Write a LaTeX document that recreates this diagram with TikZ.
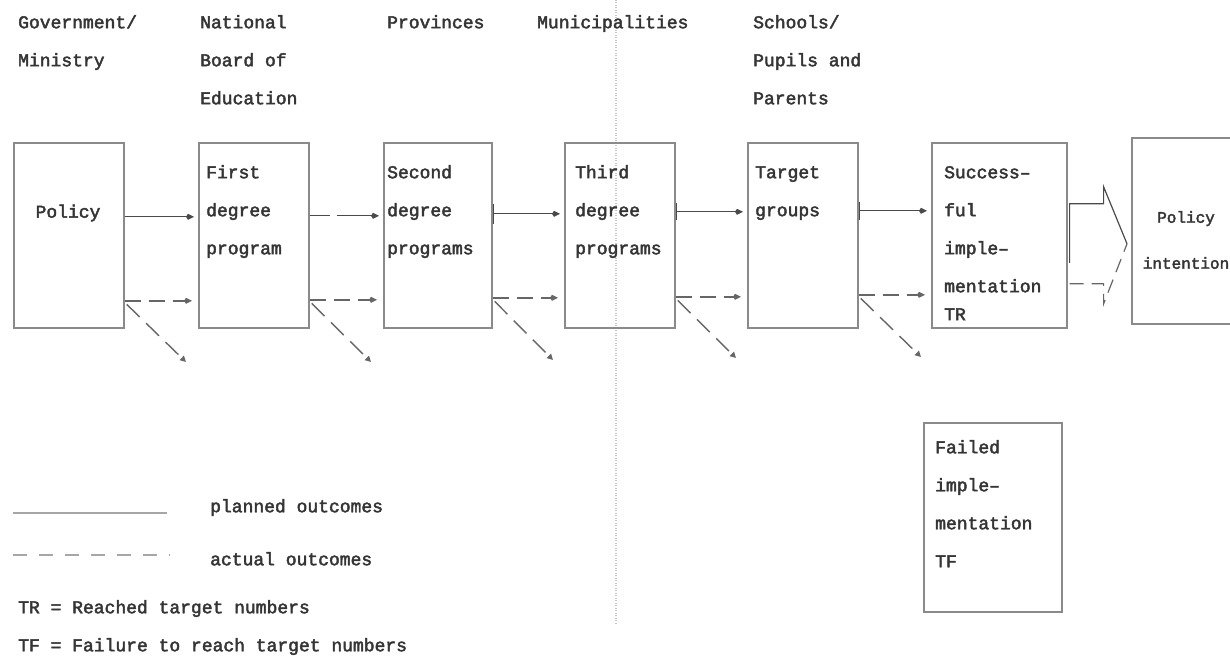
\documentclass[tikz,border=0pt]{standalone}
\usepackage{fontspec}
\setmainfont{Liberation Mono}[FakeBold=2.5]
\usepackage{tikz}
\usetikzlibrary{arrows.meta}

\definecolor{txtgray}{HTML}{353535}
\definecolor{boxgray}{HTML}{8A8A8A}
\definecolor{linegray}{HTML}{4A4A4A}
\definecolor{dashgray}{HTML}{666666}

\tikzset{
  stage/.style={draw=boxgray, line width=1.6pt, minimum width=110pt,
    minimum height=185pt, anchor=north west, inner sep=0pt},
  lbl/.style={anchor=north west, align=left, inner sep=0pt, text=txtgray,
    font=\fontsize{18}{38}\selectfont},
  planned/.style={draw=linegray, line width=1.2pt,
    -{Kite[length=8pt,width=6pt]}, shorten >=4pt},
  tickstart/.style={{Bar[width=#1]}-{Kite[length=8pt,width=6pt]}},
  actual/.style={draw=dashgray, line width=1.4pt, dash pattern=on 16pt off 8pt,
    -{Kite[length=8pt,width=6pt]}, shorten >=6pt},
  miss/.style={draw=dashgray, line width=1.4pt, dash pattern=on 18pt off 9pt,
    -{Triangle[length=6pt,width=6pt]}, shorten <=3pt},
}

\begin{document}
\begin{tikzpicture}[x=1pt,y=-1pt]
  \useasboundingbox (0,0) rectangle (1230,661);

  % dotted divider
  \draw[gray!45, line width=1.5pt, dash pattern=on 1pt off 1.5pt] (616,0) -- (616,625);

  % column heads
  \node[lbl] (h-gov) at (18,15) {Government/\\Ministry};
  \node[lbl] (h-board) at (200,15) {National\\Board of\\Education};
  \node[lbl] (h-prov) at (387,15) {Provinces};
  \node[lbl] (h-mun) at (537,15) {Municipalities};
  \node[lbl] (h-school) at (753,15) {Schools/\\Pupils and\\Parents};

  % stages
  \node[stage] (pol) at (13,142) {};
  \node[stage] (first) at (198,142) {};
  \node[stage, minimum width=108pt] (second) at (383,142) {};
  \node[stage] (third) at (564,142) {};
  \node[stage] (target) at (747,142) {};
  \node[stage, minimum width=135pt] (succ) at (931,142) {};
  \node[stage, minimum width=104pt, minimum height=186pt] (intent) at (1131,137) {};
  \node[stage, minimum width=138pt, minimum height=189pt] (failed) at (923,422) {};

  \node[lbl, anchor=center] (pol-t) at (68,213) {Policy};
  \node[lbl] (first-t) at (206,165) {First\\degree\\program};
  \node[lbl] (second-t) at (387,165) {Second\\degree\\programs};
  \node[lbl] (third-t) at (575,165) {Third\\degree\\programs};
  \node[lbl] (target-t) at (755,166) {Target\\groups};
  \node[lbl] (succ-t) at (944,166) {Success--\\ful\\imple--\\mentation\\[-10pt]TR};
  \node[lbl, align=center, anchor=center, font=\fontsize{16}{38}\selectfont]
    (intent-t) at (1186,240) {Policy\\[8pt]intention};
  \node[lbl] (failed-t) at (935,440) {Failed\\imple--\\mentation\\TF};

  % planned outcomes
  \draw[planned] ([yshift=18.5pt]pol.east) -- ([yshift=18.5pt]first.west);
  \draw[planned, dash pattern=on 20pt off 7pt on 80pt off 0pt]
    ([yshift=19.5pt]first.east) -- ([yshift=19.5pt]second.west);
  \draw[planned, tickstart=20pt] ([yshift=21.5pt]second.east) -- ([yshift=21.5pt]third.west);
  \draw[planned, tickstart=17pt] ([yshift=23.5pt]third.east) -- ([yshift=23.5pt]target.west);
  \draw[planned, tickstart=18pt] ([yshift=24.5pt]target.east) -- ([yshift=24.5pt]succ.west);

  % actual outcomes
  \coordinate (pol-miss) at (186,362);
  \coordinate (first-miss) at (371,362);
  \coordinate (second-miss) at (553,360);
  \coordinate (third-miss) at (736,358);
  \coordinate (target-miss) at (921,357);
  \draw[actual] ([yshift=-65.5pt]pol.east) -- ([yshift=-65.5pt]first.west);
  \draw[actual] ([yshift=-64.5pt]first.east) -- ([yshift=-64.5pt]second.west);
  \draw[actual] ([yshift=-62.5pt]second.east) -- ([yshift=-62.5pt]third.west);
  \draw[actual] ([yshift=-61.5pt]third.east) -- ([yshift=-61.5pt]target.west);
  \draw[actual] ([yshift=-59.5pt]target.east) -- ([yshift=-59.5pt]succ.west);
  \draw[miss] ([yshift=-67pt]pol.east) -- (pol-miss);
  \draw[miss] ([yshift=-66pt]first.east) -- (first-miss);
  \draw[miss] ([yshift=-64pt]second.east) -- (second-miss);
  \draw[miss] ([yshift=-63pt]third.east) -- (third-miss);
  \draw[miss] ([yshift=-61pt]target.east) -- (target-miss);

  % block arrow to the intention
  \coordinate (big-tip) at ([xshift=-4pt,yshift=-13pt]intent.west);
  \draw[linegray, line width=1.2pt, line join=miter]
    ([xshift=2pt,yshift=-27.5pt]succ.east) -- ([xshift=2pt,yshift=31.5pt]succ.east)
    -- ++(34,0) -- ++(0,-17) -- (big-tip);
  \draw[dashgray, line width=1.2pt, dash pattern=on 14pt off 8pt]
    ([xshift=2pt,yshift=-48.5pt]succ.east) -- ++(34,0) -- ++(0,20) -- (big-tip);

  % legend
  \coordinate (lg-pa) at (13,513);
  \coordinate (lg-pb) at (167,513);
  \coordinate (lg-aa) at (13,555);
  \coordinate (lg-ab) at (170,555);
  \draw[gray!70, line width=2pt] (lg-pa) -- (lg-pb);
  \draw[gray!70, line width=2pt, dash pattern=on 14pt off 12pt] (lg-aa) -- (lg-ab);
  \node[lbl] (lg-pt) at (210,499) {planned outcomes};
  \node[lbl] (lg-at) at (210,552) {actual outcomes};
  \node[lbl] (lg-tr) at (18,600) {TR = Reached target numbers};
  \node[lbl] (lg-tf) at (18,638) {TF = Failure to reach target numbers};
\end{tikzpicture}
\end{document}
